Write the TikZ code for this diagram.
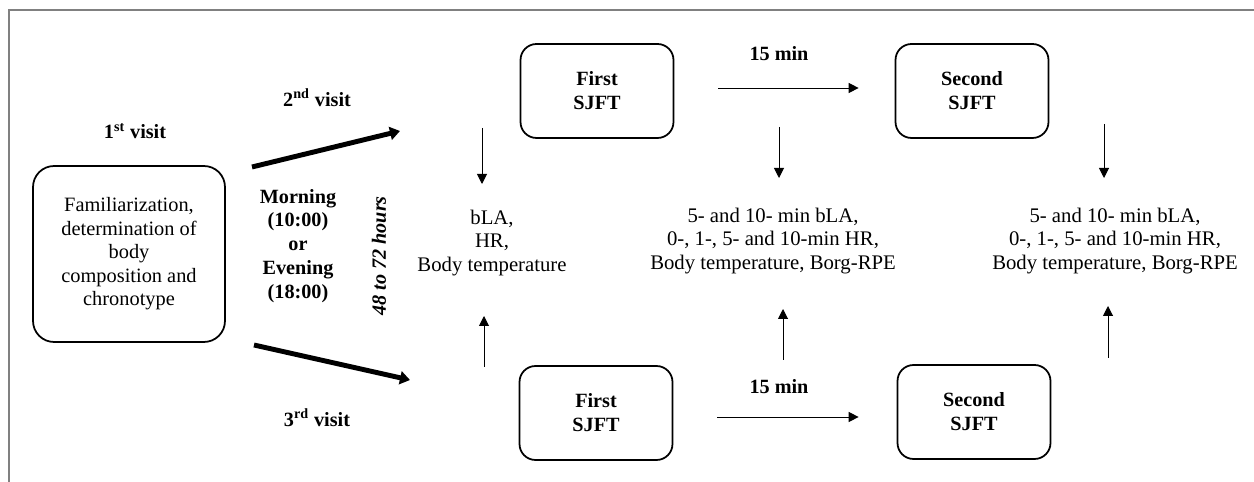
\documentclass[tikz,border=0pt]{standalone}
\usepackage{fontspec}
\setmainfont{Liberation Serif}
\usetikzlibrary{arrows.meta,positioning}

\tikzset{
  visitbox/.style={draw, line width=1pt, rounded corners=0.42cm, minimum width=3.84cm, minimum height=3.52cm, align=center, font=\fontsize{11.6}{13.4}\selectfont},
  testbox/.style={draw, line width=1pt, rounded corners=0.32cm, minimum width=3.06cm, minimum height=1.88cm, align=center, font=\fontsize{11.5}{13.6}\selectfont\bfseries},
  lbl/.style={align=center, font=\fontsize{11.5}{13.6}\selectfont\bfseries},
  measure/.style={align=center, font=\fontsize{11.8}{13.6}\selectfont},
  thin/.style={line width=0.55pt, -{Triangle[length=0.2cm,width=0.2cm]}},
  thick/.style={line width=2.8pt, -{Triangle[length=0.2cm,width=0.26cm]}}
}

\begin{document}
\begin{tikzpicture}[x=0.02cm, y=-0.02cm]
  \useasboundingbox (0,0) rectangle (1254,482);
  % Frame
  \draw[gray, line width=0.8pt] (9,482) -- (9,10) -- (1254,10);

  % First visit
  \node[visitbox] (fam) at (129,254) {Familiarization,\\determination of\\body\\composition and\\chronotype};
  \node[lbl] (visit1) at (135,131) {1\textsuperscript{st} visit};

  % Second and third visit
  \node[lbl] (visit2) at (317,98) {2\textsuperscript{nd} visit};
  \node[lbl] (visit3) at (317,418) {3\textsuperscript{rd} visit};
  \node[lbl] (time) at (298,246) {Morning\\(10:00)\\or\\Evening\\(18:00)};
  \node[lbl, font=\fontsize{11.5}{13.6}\selectfont\bfseries\itshape, rotate=90] (hours) at (379,256) {48 to 72 hours};

  \coordinate (upS) at (252,167);
  \coordinate (upE) at (400,131);
  \coordinate (dnS) at (254,345);
  \coordinate (dnE) at (410,380);
  \draw[thick] (upS) -- (upE);
  \draw[thick] (dnS) -- (dnE);

  % SJFT boxes
  \node[testbox] (firstA) at (597,91) {First\\SJFT};
  \node[testbox] (secondA) at (972,91) {Second\\SJFT};
  \node[testbox] (firstB) at (596,413) {First\\SJFT};
  \node[testbox] (secondB) at (974,412) {Second\\SJFT};

  \node[lbl] (restA) at (779,54) {15 min};
  \node[lbl] (restB) at (779,387) {15 min};
  \draw[thin, shorten <=0.88cm, shorten >=0.72cm] (firstA.east |- 0,88) -- (secondA.west |- 0,88);
  \draw[thin, shorten <=0.88cm, shorten >=0.76cm] (firstB.east |- 0,417) -- (secondB.west |- 0,417);

  % Measurements
  \node[measure] (pre) at (492,243) {bLA,\\HR,\\Body temperature};
  \node[measure] (postA) at (773,241) {5- and 10- min bLA,\\0-, 1-, 5- and 10-min HR,\\Body temperature, Borg-RPE};
  \node[measure] (postB) at (1115,241) {5- and 10- min bLA,\\0-, 1-, 5- and 10-min HR,\\Body temperature, Borg-RPE};

  \coordinate (preT) at (482,128);
  \coordinate (preB) at (484,367);
  \coordinate (postAT) at (779,127);
  \coordinate (postAB) at (783,360);
  \coordinate (postBT) at (1104,124);
  \coordinate (postBB) at (1108,358);
  \draw[thin] (preT) -- (482,184);
  \draw[thin] (preB) -- (484,316);
  \draw[thin] (postAT) -- (779,178);
  \draw[thin] (postAB) -- (783,309);
  \draw[thin] (postBT) -- (1104,178);
  \draw[thin] (postBB) -- (1108,306);
\end{tikzpicture}
\end{document}
